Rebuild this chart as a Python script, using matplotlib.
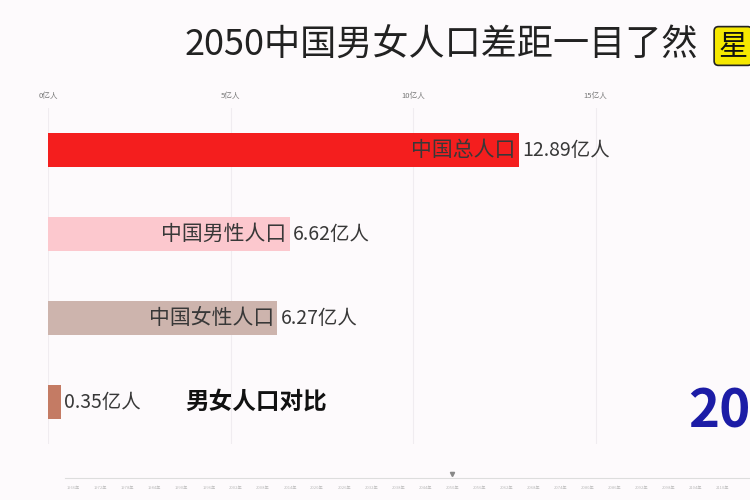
import matplotlib
matplotlib.use("Agg")
import matplotlib.pyplot as plt

plt.rcParams['font.family'] = ['Noto Sans CJK SC', 'DejaVu Sans']

categories = ["中国总人口", "中国男性人口", "中国女性人口", "男女人口差"]
inner_labels = ["中国总人口", "中国男性人口", "中国女性人口", ""]
values = [12.89, 6.62, 6.27, 0.35]
value_labels = ["12.89亿人", "6.62亿人", "6.27亿人", "0.35亿人"]
bar_colors = ["#f41e1e", "#fcc8ce", "#cdb4ad", "#c47b64"]
xticks = [0, 5, 10, 15]
xtick_labels = ["0亿人", "5亿人", "10亿人", "15亿人"]
timeline_years = list(range(1966, 2112, 6))
current_year = 2050
title = "2050中国男女人口差距一目了然"

bg = "#fdfafc"
fig = plt.figure(figsize=(7.5, 5), dpi=100, facecolor=bg)

ax = fig.add_axes([0.064, 0.112, 0.936, 0.672], facecolor=bg)
ypos = list(range(len(categories)))
ax.barh(ypos, values, height=0.4, color=bar_colors)
ax.set_xlim(0, 19.23)
ax.set_ylim(3.5, -0.5)
ax.set_yticks([])
ax.xaxis.tick_top()
ax.set_xticks(xticks)
ax.set_xticklabels(xtick_labels, fontsize=5.5, color="#777777")
ax.tick_params(axis='x', length=0, pad=6)
for s in ax.spines.values():
    s.set_visible(False)
ax.grid(axis='x', color="#f0ecf0", linewidth=0.8)
ax.set_axisbelow(True)

for y, v, inner, lab in zip(ypos, values, inner_labels, value_labels):
    if inner:
        ax.text(v - 0.08, y, inner, ha='right', va='center', fontsize=15, color="#383838")
    ax.text(v + 0.1, y, lab, ha='left', va='center', fontsize=14, color="#383838")

ax.text(3.75, 3, "男女人口对比", ha='left', va='center', fontsize=17, fontweight='bold', color="#111111")

fig.text(0.589, 0.908, title, ha='center', va='center', fontsize=26, color="#222222")
fig.text(0.958, 0.908, "星", ha='left', va='center', fontsize=21, color="#111111",
         bbox=dict(boxstyle="round,pad=0.15", facecolor="#f6e800", edgecolor="#222222", linewidth=1.2))

fig.text(0.918, 0.175, str(current_year), ha='left', va='center', fontsize=38,
         fontweight='bold', color="#1c1ca6")

# timeline
tax = fig.add_axes([0.08, 0.0, 0.92, 0.06], facecolor='none')
tax.set_xlim(1963, 2116)
tax.set_ylim(0, 1)
tax.plot([1964, 2116], [0.72, 0.72], color="#dddddd", linewidth=0.8)
tax.plot([current_year], [0.86], marker='v', color="#888888", markersize=3)
for yr in timeline_years:
    tax.text(yr, 0.4, f"{yr}年", ha='center', va='center', fontsize=3, color="#bbbbbb")
tax.axis('off')

fig.savefig("out.png", dpi=100, facecolor=bg)
